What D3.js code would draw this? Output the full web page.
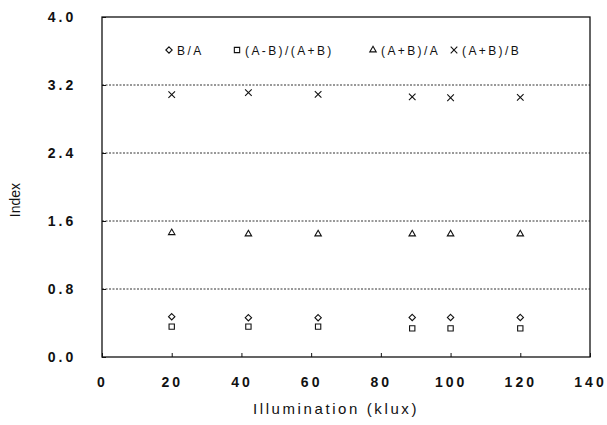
<!DOCTYPE html>
<html>
<head>
<meta charset="utf-8">
<script src="https://cdn.jsdelivr.net/npm/d3@7"></script>
<style>
  body { margin: 0; background: #fff; }
  text { font-family: "Liberation Sans", Arial, sans-serif; fill: #111; }
</style>
</head>
<body>
<svg id="chart" width="607" height="425"></svg>
<script>
// data
var illum = [20, 42, 62, 89, 100, 120];
var ratioBA = [0.474, 0.462, 0.462, 0.465, 0.465, 0.465];
var ratioDiff = [0.357, 0.357, 0.357, 0.337, 0.337, 0.337];
var ratioSumA = [1.462, 1.447, 1.447, 1.447, 1.447, 1.447];
var ratioSumB = [3.086, 3.11, 3.09, 3.06, 3.05, 3.055];
var xTicks = [0, 20, 40, 60, 80, 100, 120, 140];
var yTicks = [0, 0.8, 1.6, 2.4, 3.2, 4.0];
var seriesNames = ["B/A", "(A-B)/(A+B)", "(A+B)/A", "(A+B)/B"];

var svg = d3.select("#chart");
var x = d3.scaleLinear().domain([0, 140]).range([102, 590]);
var y = d3.scaleLinear().domain([0, 4]).range([357, 17]);

// dotted grid lines
svg.append("g").selectAll("line")
    .data(yTicks.slice(1, 5))
    .enter().append("line")
    .attr("x1", x(0)).attr("x2", x(140))
    .attr("y1", function (d) { return y(d); })
    .attr("y2", function (d) { return y(d); })
    .attr("stroke", "#333").attr("stroke-width", 1)
    .attr("stroke-dasharray", "2,1.5");

// frame
svg.append("rect")
    .attr("x", x(0)).attr("y", y(4))
    .attr("width", x(140) - x(0)).attr("height", y(0) - y(4))
    .attr("fill", "none").attr("stroke", "#111").attr("stroke-width", 1.3);

// axes
var xAxis = d3.axisBottom(x).tickValues(xTicks).tickSize(-4).tickPadding(20)
    .tickFormat(d3.format("d"));
svg.append("g").attr("transform", "translate(0," + y(0) + ")").call(xAxis)
    .call(function (g) {
        g.select(".domain").remove();
        g.selectAll(".tick line").attr("stroke", "#111");
        g.selectAll("text").attr("font-size", 14).attr("font-weight", "bold")
            .attr("letter-spacing", "3px").attr("fill", "#111");
    });

var yAxis = d3.axisLeft(y).tickValues(yTicks).tickSize(-4).tickPadding(40)
    .tickFormat(d3.format(".1f"));
svg.append("g").attr("transform", "translate(" + x(0) + ",0)").call(yAxis)
    .call(function (g) {
        g.select(".domain").remove();
        g.selectAll(".tick line").attr("stroke", "#111");
        g.selectAll("text").attr("font-size", 14).attr("font-weight", "bold")
            .attr("letter-spacing", "3px").attr("fill", "#111")
            .attr("text-anchor", "middle").attr("dx", 0);
    });

// axis titles
svg.append("text")
    .attr("x", 336).attr("y", 414)
    .attr("text-anchor", "middle")
    .attr("font-size", 15).attr("letter-spacing", "2.6px")
    .text("Illumination (klux)");

svg.append("text")
    .attr("transform", "translate(20,200) rotate(-90)")
    .attr("text-anchor", "middle")
    .attr("font-size", 14)
    .text("Index");

// markers
var diamond = d3.symbol().type(d3.symbolDiamond2).size(26);
var square = d3.symbol().type(d3.symbolSquare2).size(36);
var triangle = d3.symbol().type(d3.symbolTriangle2).size(30);
var cross = d3.symbol().type(d3.symbolX).size(30);
var shapes = [diamond, square, triangle, cross];
var series = [ratioBA, ratioDiff, ratioSumA, ratioSumB];

series.forEach(function (vals, k) {
    svg.append("g").selectAll("path")
        .data(vals)
        .enter().append("path")
        .attr("transform", function (d, i) {
            return "translate(" + x(illum[i]) + "," + y(d) + ")";
        })
        .attr("d", shapes[k])
        .attr("fill", "none").attr("stroke", "#111").attr("stroke-width", 1.1);
});

// legend
var legendX = [169, 237, 373, 454];
var legend = svg.append("g").selectAll("g")
    .data(seriesNames)
    .enter().append("g")
    .attr("transform", function (d, i) { return "translate(" + legendX[i] + ",50)"; });
legend.append("path")
    .attr("d", function (d, i) { return shapes[i](); })
    .attr("fill", "none").attr("stroke", "#111").attr("stroke-width", 1.1);
legend.append("text")
    .attr("x", 8).attr("y", 4.5)
    .attr("font-size", 12).attr("letter-spacing", "2.4px")
    .text(function (d) { return d; });
</script>
</body>
</html>
